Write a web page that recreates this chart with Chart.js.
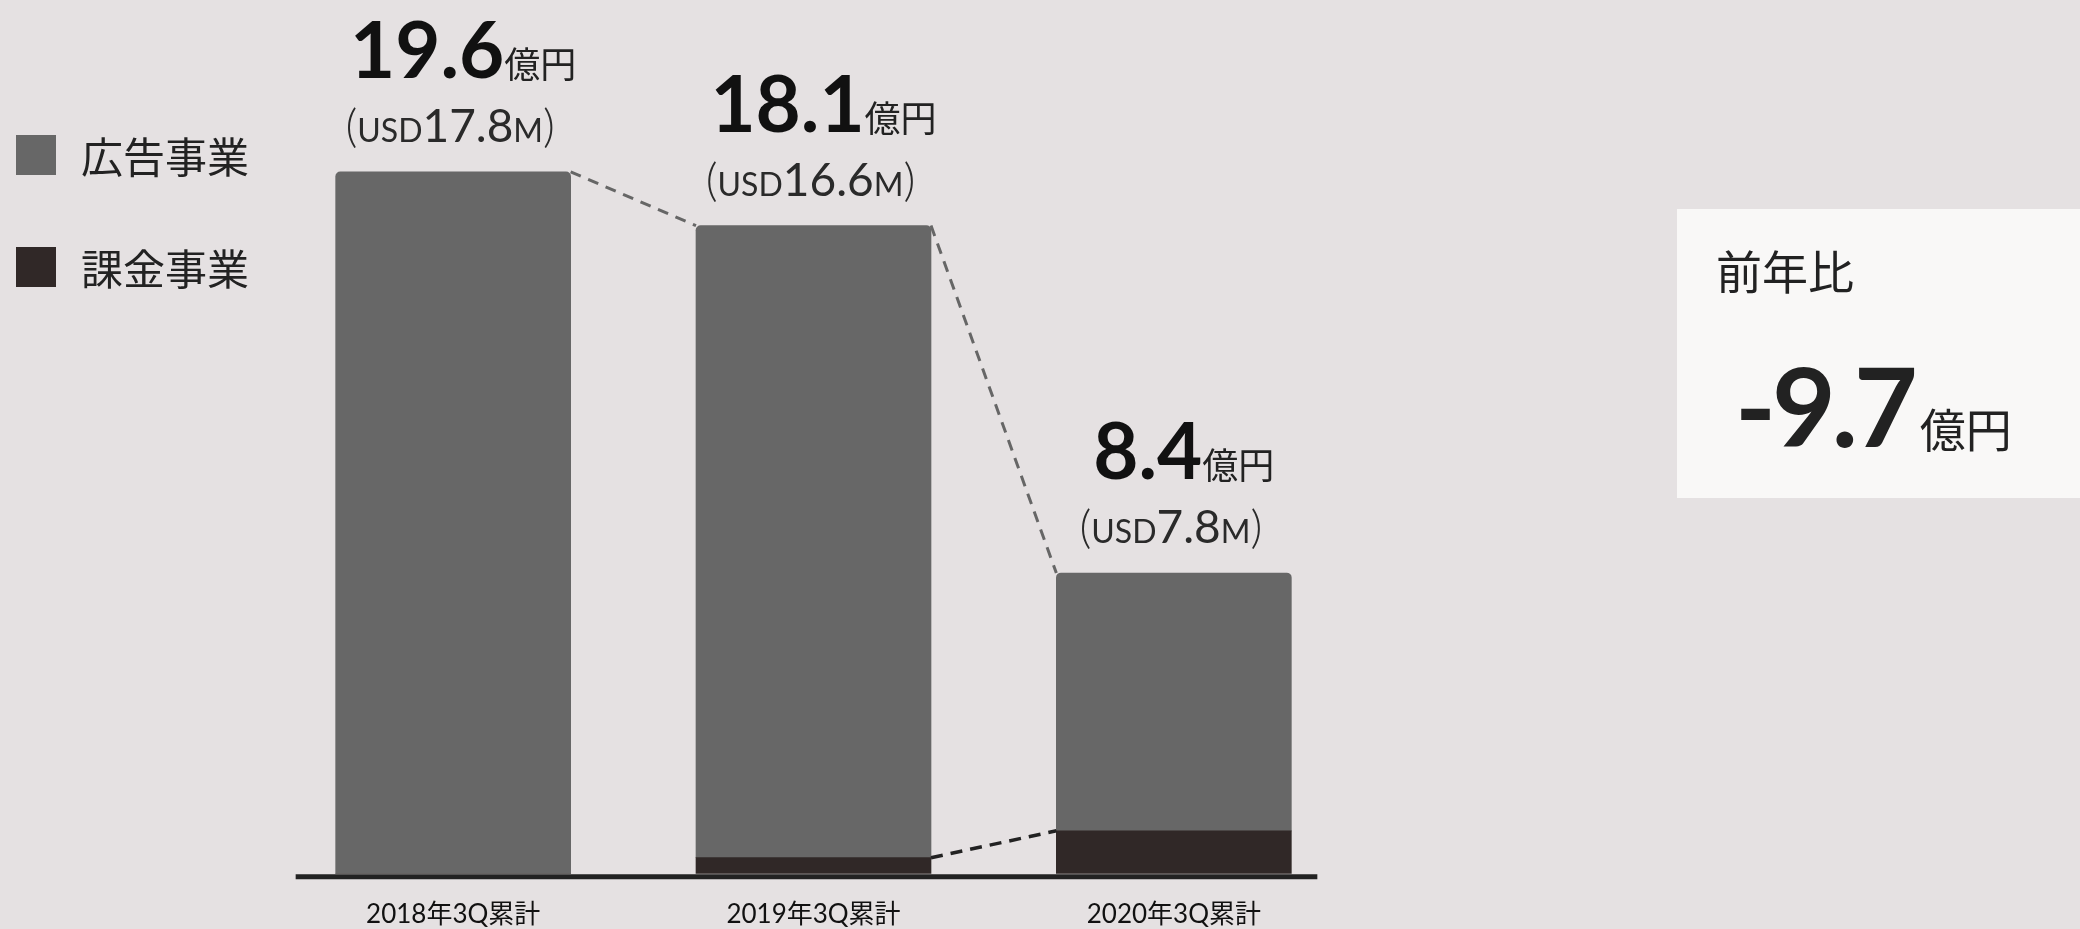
<!DOCTYPE html>
<html lang="ja">
<head>
<meta charset="utf-8">
<title>売上推移</title>
<script src="https://cdn.jsdelivr.net/npm/chart.js@4.4.1/dist/chart.umd.min.js"></script>
<style>
  html, body { margin: 0; padding: 0; background: #e5e1e2; }
  #wrap { position: relative; width: 2080px; height: 929px; overflow: hidden; }
  #salesChart { position: absolute; left: 0; top: 0; }
  .legend-item {
    position: absolute; left: 16px; height: 40px;
    display: flex; align-items: center; white-space: nowrap;
    font-family: 'Noto Sans CJK JP', sans-serif; font-size: 42px; color: #222;
  }
  .legend-item .swatch { width: 40px; height: 40px; margin-right: 25px; }
  .legend-item span { line-height: 40px; }
</style>
</head>
<body>
<div id="wrap">
  <canvas id="salesChart" width="2080" height="929"></canvas>
  <div class="legend-item" style="top:135px"><div class="swatch" style="background:#676767"></div><span>広告事業</span></div>
  <div class="legend-item" style="top:247px"><div class="swatch" style="background:#302827"></div><span>課金事業</span></div>
</div>
<script>
// 累計売上（億円）
const quarters = ['2018年3Q累計', '2019年3Q累計', '2020年3Q累計'];
const adRevenue = [19.6, 17.65, 7.2];
const billingRevenue = [0, 0.45, 1.2];
const usdMillions = [17.8, 16.6, 7.8];

const AD_COLOR = '#676767';
const BILLING_COLOR = '#302827';
const LATO = 'Lato, "Noto Sans CJK JP", sans-serif';
const CJK = '"Noto Sans CJK JP", sans-serif';

const totals = adRevenue.map((v, i) => v + billingRevenue[i]);
const yoyChange = totals[totals.length - 1] - totals[totals.length - 2];

// draw a row of text pieces with different fonts on one baseline
function drawRuns(ctx, runs, x, baseline, align) {
    let total = 0;
    runs.forEach(r => {
        ctx.font = r.font;
        ctx.letterSpacing = r.spacing || '0px';
        r.w = ctx.measureText(r.text).width + (r.gap || 0);
        total += r.w;
    });
    let cx = align === 'left' ? x : x - total / 2;
    ctx.textAlign = 'left';
    ctx.textBaseline = 'alphabetic';
    runs.forEach(r => {
        ctx.font = r.font;
        ctx.letterSpacing = r.spacing || '0px';
        ctx.fillStyle = r.color;
        ctx.fillText(r.text, cx, baseline);
        cx += r.w;
    });
    ctx.letterSpacing = '0px';
}

function barBox(el) {
    const p = el.getProps(['x', 'y', 'base', 'width'], true);
    return { left: p.x - p.width / 2, right: p.x + p.width / 2, top: p.y, x: p.x, base: p.base };
}

// axis line + dashed connectors between neighbouring bars
const connectorPlugin = {
    id: 'connectors',
    afterDatasetsDraw(chart) {
        const ctx = chart.ctx;
        const billing = chart.getDatasetMeta(0).data.map(barBox);
        const ad = chart.getDatasetMeta(1).data.map(barBox);
        ctx.save();

        // base line
        ctx.strokeStyle = '#222';
        ctx.lineWidth = 5;
        ctx.beginPath();
        ctx.moveTo(ad[0].left - 40, chart.chartArea.bottom + 3);
        ctx.lineTo(ad[ad.length - 1].right + 26, chart.chartArea.bottom + 3);
        ctx.stroke();

        ctx.setLineDash([11, 8]);
        ctx.lineWidth = 3;
        ctx.strokeStyle = '#666';
        for (let i = 0; i < ad.length - 1; i++) {
            ctx.beginPath();
            ctx.moveTo(ad[i].right, ad[i].top);
            ctx.lineTo(ad[i + 1].left, ad[i + 1].top);
            ctx.stroke();
        }

        ctx.setLineDash([12, 8]);
        ctx.lineWidth = 3.5;
        ctx.strokeStyle = '#222';
        for (let i = 0; i < billing.length - 1; i++) {
            if (billingRevenue[i] > 0 && billingRevenue[i + 1] > 0) {
                ctx.beginPath();
                ctx.moveTo(billing[i].right, billing[i].top);
                ctx.lineTo(billing[i + 1].left, billing[i + 1].top);
                ctx.stroke();
            }
        }
        ctx.restore();
    }
};

// totals above each bar: 億円 and USD
const totalLabelPlugin = {
    id: 'totalLabels',
    afterDatasetsDraw(chart) {
        const ctx = chart.ctx;
        const ad = chart.getDatasetMeta(1).data.map(barBox);
        ctx.save();
        ad.forEach((b, i) => {
            drawRuns(ctx, [
                { text: totals[i].toFixed(1), font: `700 78px ${LATO}`, color: '#111' },
                { text: '億円', font: `400 36px ${CJK}`, color: '#222' }
            ], b.x + 10, b.top - 94);
            drawRuns(ctx, [
                { text: '(', font: `300 46px ${LATO}`, color: '#2a2a2a' },
                { text: 'USD', font: `400 32px ${LATO}`, color: '#2a2a2a' },
                { text: usdMillions[i].toFixed(1), font: `400 46px ${LATO}`, color: '#2a2a2a' },
                { text: 'M', font: `400 32px ${LATO}`, color: '#2a2a2a' },
                { text: ')', font: `300 46px ${LATO}`, color: '#2a2a2a' }
            ], b.x - 3, b.top - 30);
        });
        ctx.restore();
    }
};

// year-over-year panel on the right
const yoyPlugin = {
    id: 'yoyPanel',
    afterDraw(chart) {
        const ctx = chart.ctx;
        ctx.save();
        ctx.fillStyle = '#f9f8f7';
        ctx.fillRect(1677, 209, 403, 289);
        drawRuns(ctx, [{ text: '前年比', font: `400 46px ${CJK}`, color: '#222' }], 1716, 289, 'left');
        drawRuns(ctx, [
            { text: yoyChange.toFixed(1), font: `700 110px ${LATO}`, color: '#222', spacing: '-4px', gap: 6 },
            { text: '億円', font: `400 46px ${CJK}`, color: '#222' }
        ], 1735, 447, 'left');
        ctx.restore();
    }
};

new Chart(document.getElementById('salesChart'), {
    type: 'bar',
    data: {
        labels: quarters,
        datasets: [
            {
                label: '課金事業',
                data: billingRevenue,
                backgroundColor: BILLING_COLOR,
                barThickness: 235,
                borderWidth: 0
            },
            {
                label: '広告事業',
                data: adRevenue,
                backgroundColor: AD_COLOR,
                barThickness: 235,
                borderWidth: 0,
                borderRadius: { topLeft: 5, topRight: 5, bottomLeft: 0, bottomRight: 0 },
                borderSkipped: false
            }
        ]
    },
    options: {
        responsive: false,
        devicePixelRatio: 1,
        animation: false,
        layout: { padding: { left: 273, right: 726, top: 0, bottom: -27 } },
        plugins: {
            legend: { display: false },
            tooltip: { enabled: false }
        },
        scales: {
            x: {
                stacked: true,
                grid: { display: false, drawTicks: false },
                border: { display: false },
                ticks: { color: '#111', padding: 25.5, font: { family: LATO, size: 26 } }
            },
            y: {
                stacked: true,
                display: false,
                min: 0,
                max: 24.4
            }
        }
    },
    plugins: [connectorPlugin, totalLabelPlugin, yoyPlugin]
});
</script>
</body>
</html>
